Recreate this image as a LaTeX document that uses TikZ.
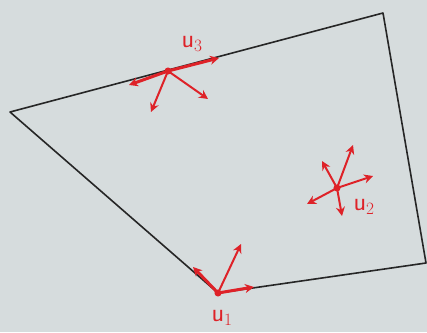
\documentclass[tikz,border=0pt]{standalone}
\usetikzlibrary{arrows.meta}
\definecolor{paper}{RGB}{214,220,221}
\definecolor{pen}{RGB}{222,34,40}
\tikzset{
  edge/.style={draw=black!85, line width=1.6pt, line cap=round, line join=round},
  vec/.style={draw=pen, line width=2pt, line cap=round, -{Stealth[length=9pt,width=9pt]}},
  thickvec/.style={vec, line width=3pt},
  lbl/.style={text=pen, font=\fontsize{26}{30}\selectfont\sffamily},
  dotpt/.style={circle, fill=pen, inner sep=2.5pt}
}
\begin{document}
\begin{tikzpicture}[x=1pt,y=-1pt]
\fill[paper] (0,0) rectangle (427,332);
\useasboundingbox (0,0) rectangle (427,332);
% polygon vertices
\coordinate (A) at (10,112);
\coordinate (B) at (383,13);
\coordinate (C) at (426,263);
\coordinate (D) at (218,293);
\draw[edge] (A) -- (B) -- (C) -- (D) -- cycle;
% u3 on top edge
\node[dotpt] (u3) at (168,71) {};
\coordinate (u3a) at (129,85);
\coordinate (u3b) at (219,58);
\coordinate (u3c) at (151,112);
\coordinate (u3d) at (208,99);
\draw[thickvec] (u3.center) -- (u3a);
\draw[thickvec] (u3.center) -- (u3b);
\draw[vec] (u3.center) -- (u3c);
\draw[vec] (u3.center) -- (u3d);
\node[lbl] (l3) at (192,44) {u$_3$};
% u2 interior
\node[dotpt] (u2) at (337,188) {};
\coordinate (u2a) at (353,145);
\coordinate (u2b) at (322,161);
\coordinate (u2c) at (373,176);
\coordinate (u2d) at (307,204);
\coordinate (u2e) at (342,216);
\draw[vec] (u2.center) -- (u2a);
\draw[vec] (u2.center) -- (u2b);
\draw[vec] (u2.center) -- (u2c);
\draw[vec] (u2.center) -- (u2d);
\draw[vec] (u2.center) -- (u2e);
\node[lbl] (l2) at (364,207) {u$_2$};
% u1 at vertex D
\node[dotpt] (u1) at (218,293) {};
\coordinate (u1a) at (193,267);
\coordinate (u1b) at (254,287);
\coordinate (u1c) at (241,244);
\draw[thickvec] (u1.center) -- (u1a);
\draw[thickvec] (u1.center) -- (u1b);
\draw[vec] (u1.center) -- (u1c);
\node[lbl] (l1) at (222,318) {u$_1$};
\end{tikzpicture}
\end{document}
